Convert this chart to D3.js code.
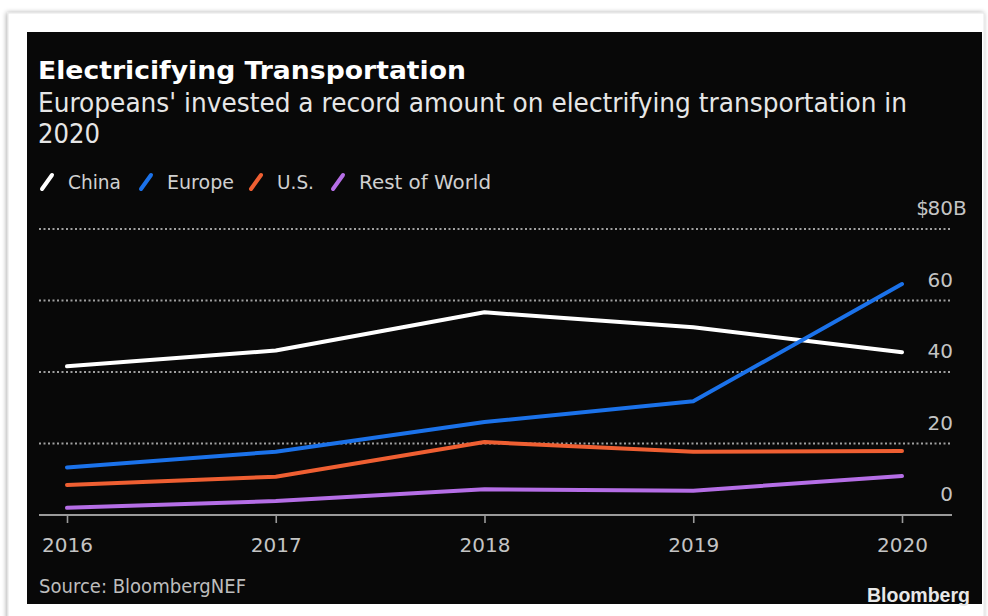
<!DOCTYPE html>
<html>
<head>
<meta charset="utf-8">
<script src="https://cdn.jsdelivr.net/npm/d3@7"></script>
<style>
  html, body { margin: 0; padding: 0; background: #ffffff; }
  svg { display: block; }
</style>
</head>
<body>
<svg id="chart" width="988" height="616"></svg>
<script>
// ---- Data ----
const years = [2016, 2017, 2018, 2019, 2020];
const seriesNames = ["China", "Europe", "U.S.", "Rest of World"];
const china = [41.6, 46.0, 56.7, 52.5, 45.5];
const europe = [13.3, 17.7, 26.0, 31.8, 64.6];
const us = [8.4, 10.7, 20.4, 17.7, 17.9];
const restOfWorld = [2.0, 3.9, 7.2, 6.8, 10.9];
const yTicks = [0, 20, 40, 60, 80];
const seriesColors = ["#ffffff", "#1b72ea", "#ef5f32", "#b56ee6"];

const titleText = "Electricifying Transportation";
const subtitleLines = ["Europeans' invested a record amount on electrifying transportation in", "2020"];
const sourceText = "Source: BloombergNEF";
const brandText = "Bloomberg";

const seriesValues = [china, europe, us, restOfWorld];
const series = seriesNames.map((n, i) => ({ name: n, color: seriesColors[i], values: seriesValues[i] }));

// ---- Setup ----
const svg = d3.select("#chart");
const FONT = "'DejaVu Sans', 'Noto Sans', sans-serif";

// shadow filter
const defs = svg.append("defs");
const f = defs.append("filter").attr("id", "shadow").attr("x", "-5%").attr("y", "-5%").attr("width", "110%").attr("height", "110%");
f.append("feGaussianBlur").attr("in", "SourceAlpha").attr("stdDeviation", 2.5);
f.append("feOffset").attr("dx", -1).attr("dy", 0).attr("result", "ob");
f.append("feComponentTransfer").append("feFuncA").attr("type", "linear").attr("slope", 0.35);
const fm = f.append("feMerge");
fm.append("feMergeNode");
fm.append("feMergeNode").attr("in", "SourceGraphic");

// outer white frame
svg.append("rect").attr("x", 8).attr("y", 13).attr("width", 976).attr("height", 640)
  .attr("fill", "#ffffff").attr("stroke", "#e6e6e6").attr("stroke-width", 1).attr("filter", "url(#shadow)");

// black panel
svg.append("rect").attr("x", 27).attr("y", 32).attr("width", 955).attr("height", 572)
  .attr("fill", "#080808");

// helper for fitted text
function fitText(sel, len) {
  sel.attr("textLength", len).attr("lengthAdjust", "spacingAndGlyphs");
  return sel;
}

// Title
fitText(svg.append("text").attr("x", 38).attr("y", 79)
  .attr("font-family", FONT).attr("font-weight", "bold").attr("font-size", 25)
  .attr("fill", "#ffffff").text(titleText), 428);

// Subtitle
fitText(svg.append("text").attr("x", 38).attr("y", 112)
  .attr("font-family", FONT).attr("font-size", 26)
  .attr("fill", "#e6e6e6").text(subtitleLines[0]), 869);
fitText(svg.append("text").attr("x", 38).attr("y", 143)
  .attr("font-family", FONT).attr("font-size", 26)
  .attr("fill", "#e6e6e6").text(subtitleLines[1]), 62);

// Legend
const legendX = [42, 141, 251, 333];
const legendTextW = [53, 67, 37, 132];
const legend = svg.append("g");
series.forEach((s, i) => {
  legend.append("line")
    .attr("x1", legendX[i]).attr("y1", 189).attr("x2", legendX[i] + 10).attr("y2", 175)
    .attr("stroke", s.color).attr("stroke-width", 4).attr("stroke-linecap", "round");
  fitText(legend.append("text").attr("x", legendX[i] + 26).attr("y", 189)
    .attr("font-family", FONT).attr("font-size", 20)
    .attr("fill", "#d0d0d0").text(s.name), legendTextW[i]);
});

// ---- Scales ----
const x = d3.scaleLinear().domain([2016, 2020]).range([67, 902]);
const y = d3.scaleLinear().domain([0, 80]).range([515, 229]);

// gridlines (dotted) for non-zero ticks
svg.append("g").selectAll("line").data(yTicks.filter(t => t !== 0)).join("line")
  .attr("x1", 39).attr("x2", 952)
  .attr("y1", d => y(d)).attr("y2", d => y(d))
  .attr("stroke", "#a0a0a0").attr("stroke-width", 2)
  .attr("stroke-dasharray", "2,2.5");

// y labels (above their gridlines, right aligned)
const yl = svg.append("g").attr("font-family", FONT).attr("font-size", 20).attr("fill", "#c4c4c4");
yTicks.forEach((t, i) => {
  yl.append("text").attr("x", 953).attr("y", y(t) - 14).attr("text-anchor", "end").text(t);
  if (t === yTicks[yTicks.length - 1]) {
    yl.append("text").attr("x", 953).attr("y", y(t) - 14).attr("text-anchor", "start").text("B");
    yl.append("text").attr("x", 929).attr("y", y(t) - 14).attr("text-anchor", "end").text("$");
  }
});

// x axis
const xAxis = d3.axisBottom(x).tickValues(years).tickFormat(d3.format("d")).tickSize(8).tickPadding(15);
const xg = svg.append("g").attr("transform", "translate(0,515)").call(xAxis);
xg.select(".domain").remove();
xg.append("line").attr("x1", 39).attr("x2", 952).attr("y1", 0).attr("y2", 0)
  .attr("stroke", "#9a9a9a").attr("stroke-width", 2);
xg.selectAll(".tick line").attr("stroke", "#9a9a9a").attr("stroke-width", 1.6);
xg.selectAll(".tick text").attr("font-family", FONT).attr("font-size", 20).attr("fill", "#c4c4c4");

// lines
const line = d3.line().x((d, i) => x(years[i])).y(d => y(d));
svg.append("g").selectAll("path").data(series).join("path")
  .attr("d", d => line(d.values))
  .attr("fill", "none")
  .attr("stroke", d => d.color)
  .attr("stroke-width", 4)
  .attr("stroke-linejoin", "round")
  .attr("stroke-linecap", "round");

// source
fitText(svg.append("text").attr("x", 39).attr("y", 593)
  .attr("font-family", FONT).attr("font-size", 20)
  .attr("fill", "#bdbdbd").text(sourceText), 207);

// brand
fitText(svg.append("text").attr("x", 970).attr("y", 602).attr("text-anchor", "end")
  .attr("font-family", "'Liberation Sans', Arial, sans-serif").attr("font-weight", "bold").attr("font-size", 21)
  .attr("fill", "#e8e8e8").text(brandText), 103);
</script>
</body>
</html>
